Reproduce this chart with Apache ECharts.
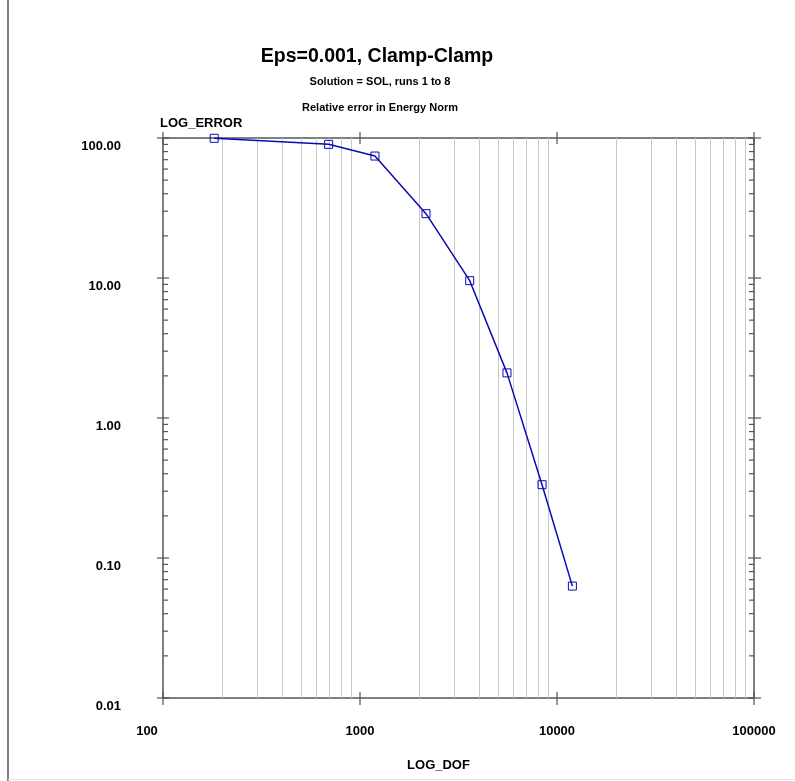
<!DOCTYPE html>
<html>
<head>
<meta charset="utf-8">
<script src="https://cdn.jsdelivr.net/npm/echarts@6/dist/echarts.min.js"></script>
<style>
  html, body { margin: 0; padding: 0; background: #fff; }
  #chart { width: 795px; height: 781px; }
</style>
</head>
<body>
<div id="chart"></div>
<script>
// Convergence of relative energy-norm error versus degrees of freedom (runs 1 to 8)
const dof = [182, 693, 1191, 2163, 3606, 5572, 8395, 11970];
const relError = [99.5, 90.1, 74.3, 28.8, 9.57, 2.10, 0.334, 0.063];

// Decade ticks of both log axes
const xDecades = [100, 1000, 10000, 100000];
const yDecades = [0.01, 0.1, 1, 10, 100];
const xTickLabels = ['100', '1000', '10000', '100000'];
const yTickLabels = ['0.01', '0.10', '1.00', '10.00', '100.00'];
const minorSteps = [2, 3, 4, 5, 6, 7, 8, 9];

const FONT = '"Liberation Sans", Arial, Helvetica, sans-serif';
const AXIS_COLOR = '#555555';
const GRID_COLOR = '#c8c8c8';
const LINE_COLOR = '#0a0ab4';

// Items for the frame decoration: [x, y, major(1)/minor(0), kind]
// kind 0 = y tick (left and right), 1 = x tick (top and bottom), 2 = vertical grid line
const frameItems = [];
yDecades.forEach(function (d, i) {
  frameItems.push([100, d, 1, 0]);
  if (i < yDecades.length - 1) {
    minorSteps.forEach(function (m) { frameItems.push([100, d * m, 0, 0]); });
  }
});
xDecades.forEach(function (d, i) {
  frameItems.push([d, 0.01, 1, 1]);
  if (i < xDecades.length - 1) {
    minorSteps.forEach(function (m) { frameItems.push([d * m, 0.01, 0, 2]); });
  }
});

function renderFrame(params, api) {
  const x = api.value(0), y = api.value(1), major = api.value(2), kind = api.value(3);
  const style = { stroke: AXIS_COLOR, lineWidth: 1.2 };
  const children = [];
  if (kind === 0) {
    const py = api.coord([100, y])[1];
    const xl = api.coord([100, y])[0];
    const xr = api.coord([100000, y])[0];
    if (major) {
      children.push({ type: 'line', shape: { x1: xl - 6, y1: py, x2: xl + 6, y2: py }, style: style });
      children.push({ type: 'line', shape: { x1: xr - 6, y1: py, x2: xr + 7, y2: py }, style: style });
    } else {
      children.push({ type: 'line', shape: { x1: xl, y1: py, x2: xl + 5, y2: py }, style: style });
      children.push({ type: 'line', shape: { x1: xr - 5, y1: py, x2: xr, y2: py }, style: style });
    }
  } else if (kind === 1) {
    const px = api.coord([x, 0.01])[0];
    const yb = api.coord([x, 0.01])[1];
    const yt = api.coord([x, 100])[1];
    children.push({ type: 'line', shape: { x1: px, y1: yt - 6, x2: px, y2: yt + 6 }, style: style });
    children.push({ type: 'line', shape: { x1: px, y1: yb - 6, x2: px, y2: yb + 7 }, style: style });
  } else {
    const px = Math.round(api.coord([x, 0.01])[0]) + 0.5;
    const yb = api.coord([x, 0.01])[1];
    const yt = api.coord([x, 100])[1];
    children.push({ type: 'line', shape: { x1: px, y1: yt, x2: px, y2: yb }, style: { stroke: GRID_COLOR, lineWidth: 1 } });
  }
  return { type: 'group', children: children };
}

const chart = echarts.init(document.getElementById('chart'), null, { renderer: 'canvas' });

chart.setOption({
  animation: false,
  backgroundColor: '#ffffff',
  textStyle: { fontFamily: FONT },
  title: [
    { text: 'Eps=0.001, Clamp-Clamp', left: 372, top: 42, textAlign: 'center',
      textStyle: { fontFamily: FONT, fontSize: 19.5, fontWeight: 'bold', color: '#000' } },
    { text: 'Solution = SOL, runs 1 to 8', left: 375, top: 71, textAlign: 'center',
      textStyle: { fontFamily: FONT, fontSize: 11, fontWeight: 'bold', color: '#000' } },
    { text: 'Relative error in Energy Norm', left: 375, top: 97, textAlign: 'center',
      textStyle: { fontFamily: FONT, fontSize: 11, fontWeight: 'bold', color: '#000' } }
  ],
  graphic: [
    { type: 'line', shape: { x1: 8, y1: 0, x2: 8, y2: 781 }, style: { stroke: '#808080', lineWidth: 2 } },
    { type: 'line', shape: { x1: 8, y1: 779.5, x2: 795, y2: 779.5 }, style: { stroke: '#e4e4e4', lineWidth: 1 } }
  ],
  grid: {
    left: 163, right: 41, top: 138, bottom: 83,
    show: true, borderColor: AXIS_COLOR, borderWidth: 1.5, backgroundColor: 'transparent'
  },
  xAxis: {
    type: 'log', logBase: 10, min: 100, max: 100000,
    name: 'LOG_DOF', nameLocation: 'middle', nameGap: 61,
    nameTextStyle: { fontFamily: FONT, fontSize: 13, fontWeight: 'bold', color: '#000', padding: [0, 40, 0, 0] },
    axisLine: { show: false }, axisTick: { show: false }, splitLine: { show: false },
    axisLabel: {
      margin: 27, fontFamily: FONT, fontSize: 13, fontWeight: 'bold', color: '#000',
      formatter: function (v) {
        const i = xDecades.indexOf(Math.round(v));
        if (i < 0) return '';
        return i === 0 ? '{first|' + xTickLabels[i] + '}' : xTickLabels[i];
      },
      rich: { first: { fontFamily: FONT, fontSize: 13, fontWeight: 'bold', color: '#000', padding: [0, 32, 0, 0] } }
    }
  },
  yAxis: {
    type: 'log', logBase: 10, min: 0.01, max: 100,
    name: 'LOG_ERROR', nameLocation: 'end', nameGap: 8,
    nameTextStyle: { fontFamily: FONT, fontSize: 13, fontWeight: 'bold', color: '#000', align: 'left', verticalAlign: 'bottom', padding: [0, 0, 0, -3] },
    axisLine: { show: false }, axisTick: { show: false }, splitLine: { show: false },
    axisLabel: {
      margin: 42, fontFamily: FONT, fontSize: 13, fontWeight: 'bold', color: '#000',
      verticalAlign: 'top', lineHeight: 16,
      formatter: function (v) {
        let best = 0;
        yDecades.forEach(function (d, i) { if (Math.abs(Math.log10(d) - Math.log10(v)) < Math.abs(Math.log10(yDecades[best]) - Math.log10(v))) best = i; });
        return yTickLabels[best];
      }
    }
  },
  series: [
    {
      type: 'custom', name: 'frame', silent: true, clip: false, z: 1,
      renderItem: renderFrame, data: frameItems
    },
    {
      type: 'line', name: 'SOL', z: 5,
      data: dof.map(function (d, i) { return [d, relError[i]]; }),
      lineStyle: { color: LINE_COLOR, width: 1.5 },
      symbol: 'rect', symbolSize: 8, showSymbol: true,
      itemStyle: { color: 'rgba(255,255,255,0)', borderColor: LINE_COLOR, borderWidth: 1 },
      emphasis: { disabled: true }
    }
  ]
});
</script>
</body>
</html>
